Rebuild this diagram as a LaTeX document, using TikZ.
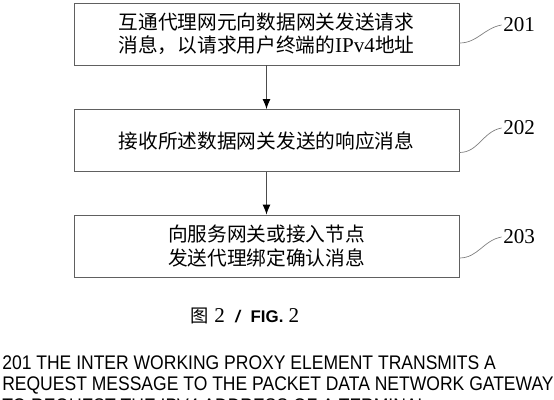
\documentclass[tikz,border=0pt]{standalone}
\usepackage{fontspec}
\setmainfont{Liberation Serif}
\setsansfont{Liberation Sans}
\newfontfamily\cjk{Noto Sans CJK SC}
\newfontfamily\engfont[FakeStretch=0.89]{Liberation Sans}
\usetikzlibrary{arrows.meta}

\tikzset{
  stepbox/.style={draw=gray!75!black, line width=0.6pt,
    minimum width=9.625cm, minimum height=1.55cm, align=center,
    font=\cjk\fontsize{14}{16.5}\selectfont},
  stepnum/.style={anchor=west, inner sep=0pt, font=\fontsize{15}{15}\selectfont},
  wave/.style={draw=gray, line width=0.5pt},
  flow/.style={draw=gray!60!black, line width=0.6pt,
    -{Latex[black,length=7pt,width=5.5pt]}}
}

\begin{document}
\begin{tikzpicture}[x=0.025cm,y=-0.025cm]
   \useasboundingbox (0,0) rectangle (554,400);

   % the three steps
   \node[stepbox] (s201) at (266.5,34)
   {互通代理网元向数据网关发送请求\\消息，以请求用户终端的{\rmfamily\fontsize{15}{15}\selectfont IPv4}地址};
   \node[stepbox] (s202) at (266.5,140.5) {接收所述数据网关发送的响应消息};
   \node[stepbox] (s203) at (266.5,246)
   {向服务网关或接入节点\\发送代理绑定确认消息};

   \draw[flow] (s201) -- (s202);
   \draw[flow] (s202) -- (s203);

   % reference numbers
   \node[stepnum] (n201) at (503,25) {201};
   \node[stepnum] (n202) at (503,128) {202};
   \node[stepnum] (n203) at (503,237) {203};

   \draw[wave] ([yshift=-0.225cm]s201.east) to[out=0,in=190] ([xshift=-1pt]n201.west);
   \draw[wave] ([yshift=-0.3cm]s202.east) to[out=0,in=190] ([xshift=-1pt]n202.west);
   \draw[wave] ([yshift=-0.3cm]s203.east) to[out=0,in=190] ([xshift=-1pt]n203.west);

   % caption
   \node (cap) at (245,316)
   {{\cjk\fontsize{13}{13}\selectfont 图}\fontsize{15}{15}\selectfont~2\enspace
    {\sffamily\bfseries\itshape\fontsize{12}{12}\selectfont /}\enspace
    {\sffamily\bfseries\fontsize{12}{12}\selectfont FIG.}~2};

   % translation
   \node[anchor=north west, align=left, inner sep=0pt,
     font=\engfont\fontsize{14}{15.6}\selectfont] (eng) at (2,355)
   {201 THE INTER WORKING PROXY ELEMENT TRANSMITS A\\
    REQUEST MESSAGE TO THE PACKET DATA NETWORK GATEWAY\\
    TO REQUEST THE IPV4 ADDRESS OF A TERMINAL};
 \end{tikzpicture}
\end{document}
